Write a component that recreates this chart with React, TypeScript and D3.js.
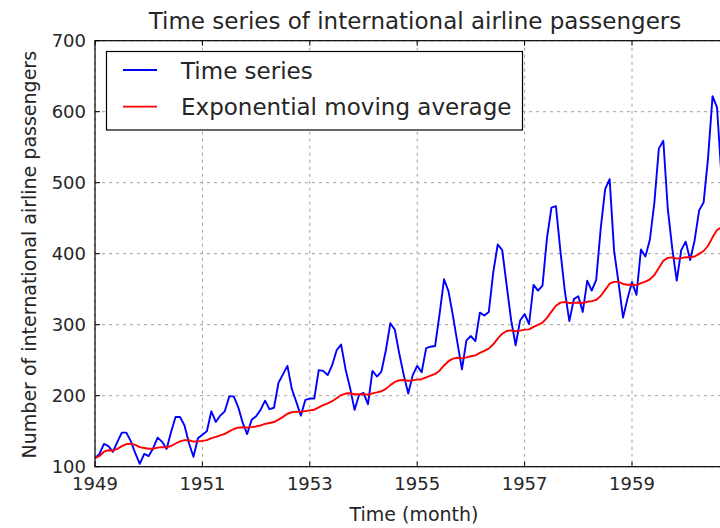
import React from 'react';
import * as d3 from 'd3';

// monthly international airline passengers (thousands), Jan 1949 - Dec 1960
const passengers = [
  112, 118, 132, 129, 121, 135, 148, 148, 136, 119, 104, 118,
  115, 126, 141, 135, 125, 149, 170, 170, 158, 133, 114, 140,
  145, 150, 178, 163, 172, 178, 199, 199, 184, 162, 146, 166,
  171, 180, 193, 181, 183, 218, 230, 242, 209, 191, 172, 194,
  196, 196, 236, 235, 229, 243, 264, 272, 237, 211, 180, 201,
  204, 188, 235, 227, 234, 264, 302, 293, 259, 229, 203, 229,
  242, 233, 267, 269, 270, 315, 364, 347, 312, 274, 237, 278,
  284, 277, 317, 313, 318, 374, 413, 405, 355, 306, 271, 306,
  315, 301, 356, 348, 355, 422, 465, 467, 404, 347, 305, 336,
  340, 318, 362, 348, 363, 435, 491, 505, 404, 359, 310, 337,
  360, 342, 406, 396, 420, 472, 548, 559, 463, 407, 362, 405,
  417, 391, 419, 461, 472, 535, 622, 606, 508, 461, 390, 432,
];

// exponential moving average
const ema = [
  112.0, 115.1, 121.1, 123.2, 122.7, 125.1, 128.9, 131.8, 132.4, 130.7, 127.5, 126.4,
  125.2, 125.3, 126.8, 127.6, 127.4, 129.2, 132.7, 135.7, 137.5, 137.2, 135.4, 135.7,
  136.4, 137.4, 140.3, 141.9, 144.0, 146.3, 149.8, 153.1, 155.1, 155.6, 155.0, 155.7,
  156.7, 158.1, 160.3, 161.6, 162.9, 166.3, 170.2, 174.6, 176.7, 177.5, 177.2, 178.2,
  179.3, 180.3, 183.6, 186.6, 189.1, 192.3, 196.5, 200.9, 203.0, 203.5, 202.1, 202.0,
  202.2, 201.3, 203.3, 204.6, 206.3, 209.6, 214.9, 219.4, 221.7, 222.1, 221.0, 221.5,
  222.6, 223.2, 225.7, 228.2, 230.6, 235.3, 242.6, 248.6, 252.2, 253.4, 252.5, 253.9,
  255.6, 256.8, 260.2, 263.2, 266.3, 272.4, 280.3, 287.3, 291.2, 292.0, 290.8, 291.7,
  293.0, 293.4, 297.0, 299.8, 302.9, 309.6, 318.4, 326.7, 331.1, 332.0, 330.5, 330.8,
  331.3, 330.5, 332.3, 333.2, 334.9, 340.5, 349.0, 357.7, 360.3, 360.3, 357.4, 356.3,
  356.5, 355.7, 358.5, 360.6, 363.9, 370.0, 380.0, 390.0, 394.1, 394.8, 393.0, 393.7,
  395.0, 394.8, 396.1, 399.8, 403.8, 411.2, 423.0, 433.3, 437.5, 438.8, 436.1, 435.8,
];

const startYear = 1949;
const xTicks = [1949, 1951, 1953, 1955, 1957, 1959];
const yTicks = [100, 200, 300, 400, 500, 600, 700];
const seriesNames = ['Time series', 'Exponential moving average'];
const seriesColors = ['#0000ff', '#ff0000'];

const W = 720;
const H = 528;
const FONT = 'DejaVu Sans, sans-serif';

export default function App() {
  const left = 95;
  const top = 40.7;
  const bottom = 466.7;
  const pxPerYear = 53.7;
  const endYear = startYear + (passengers.length - 1) / 12;
  const right = left + (endYear - startYear) * pxPerYear;

  const x = d3.scaleLinear().domain([startYear, endYear]).range([left, right]);
  const y = d3.scaleLinear().domain([100, 700]).range([bottom, top]);

  const t = (i: number) => startYear + i / 12;

  const line = d3.line<number>()
    .x((d, i) => x(t(i)))
    .y((d) => y(d));

  const tickLen = 5;
  const textColor = '#262626';

  return (
    <svg width={W} height={H} style={{ position: 'absolute', left: 0, top: 0, background: '#fff' }}
      fontFamily={FONT}>
      <rect x={0} y={0} width={W} height={H} fill="#fff" />

      {/* grid */}
      {xTicks.map((v) => (
        <line key={'gx' + v} x1={x(v)} x2={x(v)} y1={top} y2={bottom}
          stroke="#a0a0a0" strokeDasharray="3,4" strokeWidth={1} />
      ))}
      {yTicks.map((v) => (
        <line key={'gy' + v} x1={left} x2={right} y1={y(v)} y2={y(v)}
          stroke="#a0a0a0" strokeDasharray="3,4" strokeWidth={1} />
      ))}

      {/* series */}
      <path d={line(passengers) || ''} fill="none" stroke={seriesColors[0]} strokeWidth={1.9} strokeLinejoin="round" />
      <path d={line(ema) || ''} fill="none" stroke={seriesColors[1]} strokeWidth={1.9} strokeLinejoin="round" />

      {/* frame */}
      <rect x={left} y={top} width={right - left} height={bottom - top} fill="none" stroke="#000" strokeWidth={1.2} />

      {/* ticks */}
      {xTicks.map((v) => (
        <g key={'tx' + v}>
          <line x1={x(v)} x2={x(v)} y1={bottom} y2={bottom - tickLen} stroke="#000" />
          <line x1={x(v)} x2={x(v)} y1={top} y2={top + tickLen} stroke="#000" />
          <text x={x(v)} y={490} textAnchor="middle" fontSize={18} fill={textColor}>{v}</text>
        </g>
      ))}
      {yTicks.map((v) => (
        <g key={'ty' + v}>
          <line x1={left} x2={left + tickLen} y1={y(v)} y2={y(v)} stroke="#000" />
          <line x1={right} x2={right - tickLen} y1={y(v)} y2={y(v)} stroke="#000" />
          <text x={86} y={y(v) + 6.5} textAnchor="end" fontSize={18} fill={textColor}>{v}</text>
        </g>
      ))}

      {/* title and axis labels */}
      <text x={415} y={29} textAnchor="middle" fontSize={23} fill={textColor}>
        Time series of international airline passengers
      </text>
      <text x={414} y={521} textAnchor="middle" fontSize={19} fill={textColor}>
        Time (month)
      </text>
      <text transform={`translate(35.5, ${(top + bottom) / 2 + 1}) rotate(-90)`} textAnchor="middle"
        fontSize={19} fill={textColor}>
        Number of international airline passengers
      </text>

      {/* legend */}
      <rect x={106.5} y={51.5} width={416} height={78.5} fill="#fff" stroke="#000" strokeWidth={1.2} />
      {seriesNames.map((name, i) => (
        <g key={name}>
          <line x1={123} x2={157} y1={70 + i * 36.7} y2={70 + i * 36.7} stroke={seriesColors[i]} strokeWidth={1.8} />
          <text x={181} y={78.5 + i * 36.7} fontSize={23} fill={textColor}>{name}</text>
        </g>
      ))}
    </svg>
  );
}
